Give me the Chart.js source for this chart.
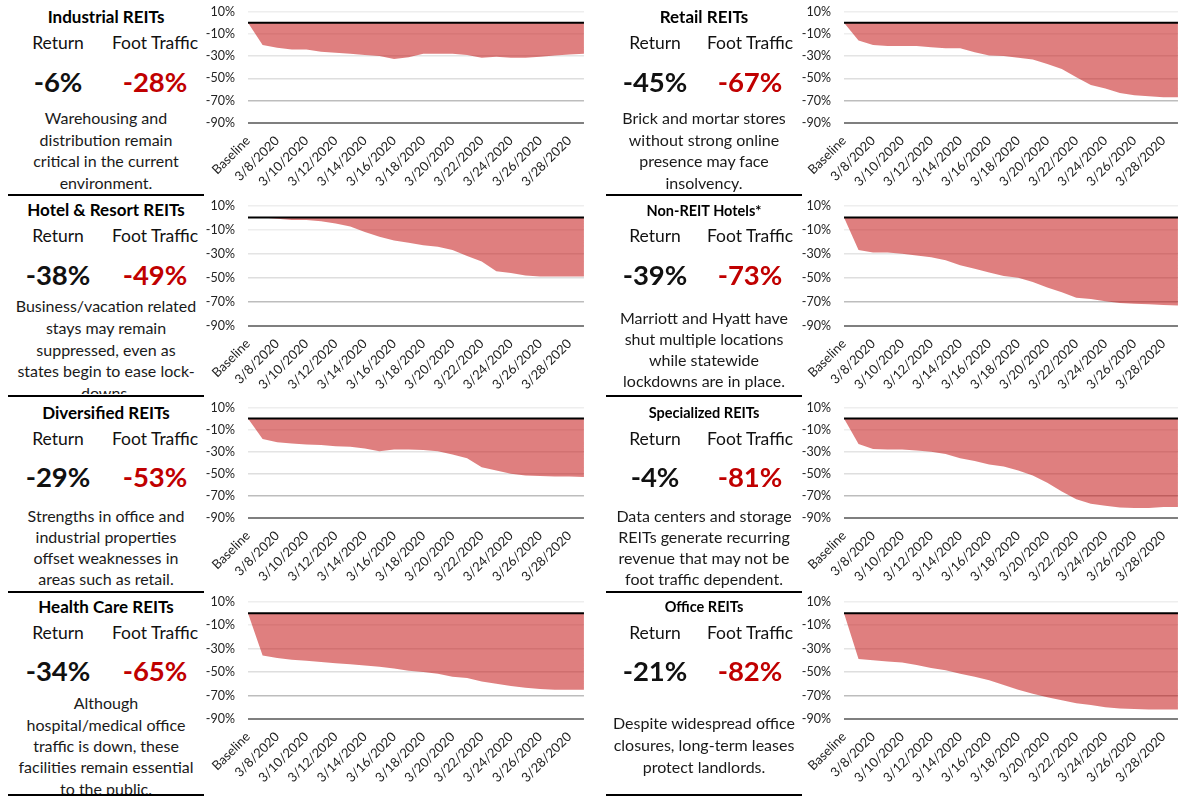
<!DOCTYPE html>
<html>
<head>
<meta charset="utf-8">
<script src="https://cdn.jsdelivr.net/npm/chart.js@4.4.1/dist/chart.umd.min.js"></script>
<style>
  body { margin: 0; background: #fff; font-family: Lato, 'Open Sans', sans-serif; }
  #page { position: relative; width: 1183px; height: 796px; overflow: hidden; }
  .t { position: absolute; text-align: center; white-space: nowrap; color: #111; }
  .sep { position: absolute; height: 2px; background: #000; }
  .box { position: absolute; }
</style>
</head>
<body>
<div id="page"></div>
<script>
// categories (x axis)
const categories = ['Baseline', '3/7/2020', '3/8/2020', '3/9/2020', '3/10/2020', '3/11/2020', '3/12/2020',
  '3/13/2020', '3/14/2020', '3/15/2020', '3/16/2020', '3/17/2020', '3/18/2020', '3/19/2020', '3/20/2020',
  '3/21/2020', '3/22/2020', '3/23/2020', '3/24/2020', '3/25/2020', '3/26/2020', '3/27/2020', '3/28/2020', '3/29/2020'];

// foot traffic change vs baseline, %
const industrial    = [0, -20, -22.5, -24, -24, -26, -27, -28, -29, -30, -32.5, -31, -28, -28, -28, -29, -31.5, -30.5, -31.5, -31.5, -30.5, -29.5, -28.5, -28];
const retail        = [0, -16, -20, -21, -21, -21, -22, -23, -23, -26.5, -29.5, -30, -31.5, -33, -37, -41.5, -49, -56, -59, -63, -65, -66, -67, -67];
const hotelResort   = [0, 0, -1, -2, -2, -3, -5, -7.5, -12, -16, -19, -21, -23, -24.3, -27, -32, -36.5, -44.5, -46, -48, -49, -49, -49, -49];
const nonReitHotels = [0, -27, -29, -29, -30, -31.5, -33, -35.5, -39.5, -42.5, -45.5, -48.5, -50, -53.5, -58, -62, -66.5, -67.5, -69.5, -71, -71.5, -72, -72.5, -73];
const diversified   = [0, -18.5, -21.5, -22.5, -23.5, -24, -25, -25.5, -27, -29.5, -28, -28, -28.5, -29.5, -32.5, -36, -44, -47, -50, -51.5, -52, -52.5, -52.5, -53];
const specialized   = [0, -23, -27.5, -28, -28, -29, -30, -32, -36, -38.5, -41.5, -43.5, -47, -51.5, -58, -66, -73, -77, -79, -80.5, -81, -81, -80, -80];
const healthCare    = [0, -36, -38, -39.5, -40.5, -41.5, -42.5, -43.5, -44.5, -45.5, -47, -49, -50, -51.5, -54, -55, -58, -60, -62, -63.5, -64.5, -65, -65, -65];
const office        = [0, -39, -40, -41, -42, -44, -46.5, -48.5, -51.5, -54, -57, -61, -65, -68.5, -71.5, -74, -76.5, -78, -80, -81, -81.5, -82, -82, -82];
const zeroLine      = [0, 0, 0, 0, 0, 0, 0, 0, 0, 0, 0, 0, 0, 0, 0, 0, 0, 0, 0, 0, 0, 0, 0, 0];

// panel texts
const titles = ['Industrial REITs', 'Retail REITs', 'Hotel & Resort REITs', 'Non-REIT Hotels*',
  'Diversified REITs', 'Specialized REITs', 'Health Care REITs', 'Office REITs'];
const returns = ['-6%', '-45%', '-38%', '-39%', '-29%', '-4%', '-34%', '-21%'];
const footTraffic = ['-28%', '-67%', '-49%', '-73%', '-53%', '-81%', '-65%', '-82%'];
const descriptions = [
  ['Warehousing and', 'distribution remain', 'critical in the current', 'environment.'],
  ['Brick and mortar stores', 'without strong online', 'presence may face', 'insolvency.'],
  ['Business/vacation related', 'stays may remain', 'suppressed, even as', 'states begin to ease lock-', 'downs.'],
  ['Marriott and Hyatt have', 'shut multiple locations', 'while statewide', 'lockdowns are in place.'],
  ['Strengths in office and', 'industrial properties', 'offset weaknesses in', 'areas such as retail.'],
  ['Data centers and storage', 'REITs generate recurring', 'revenue that may not be', 'foot traffic dependent.'],
  ['Although', 'hospital/medical office', 'traffic is down, these', 'facilities remain essential', 'to the public.'],
  ['Despite widespread office', 'closures, long-term leases', 'protect landlords.']
];
const series = [industrial, retail, hotelResort, nonReitHotels, diversified, specialized, healthCare, office];

// layout: y centres of text rows for each panel, and plot top/bottom per row
const textY = [
  { title: 17, ret: 42, num: 81, desc: 118, lh: 21.5, clip: 193, tsize: 17 },
  { title: 17, ret: 42, num: 81, desc: 118, lh: 21.5, clip: 193, tsize: 17 },
  { title: 210, ret: 235, num: 274, desc: 306, lh: 21.8, clip: 394, tsize: 17 },
  { title: 211, ret: 235, num: 274, desc: 317, lh: 21, clip: 394, tsize: 14.5 },
  { title: 413, ret: 438, num: 476, desc: 515, lh: 21, clip: 590, tsize: 17 },
  { title: 413, ret: 438, num: 476, desc: 515, lh: 21, clip: 590, tsize: 14.5 },
  { title: 607, ret: 632, num: 670, desc: 703, lh: 21.3, clip: 794, tsize: 17 },
  { title: 607, ret: 632, num: 670, desc: 723, lh: 22, clip: 794, tsize: 14.5 }
];
const rowPlot = [[11, 123], [205, 326], [407, 518], [601, 719]];
const sepY = [195, 396, 592, 795];

const page = document.getElementById('page');

function addText(txt, cx, cy, size, weight, color) {
  const d = document.createElement('div');
  d.className = 't';
  d.textContent = txt;
  d.style.left = (cx - 110) + 'px';
  d.style.width = '220px';
  d.style.top = (cy - size * 0.6) + 'px';
  d.style.lineHeight = (size * 1.2) + 'px';
  d.style.fontSize = size + 'px';
  d.style.fontWeight = weight;
  d.style.color = color;
  page.appendChild(d);
}

function gridColor(v) {
  if (v === -90) return '#7f7f7f';
  if (v === -70) return '#bdbdbd';
  if (v === -50) return '#dedede';
  if (v === -30) return '#e4e4e4';
  return '#eeeeee';
}

for (let i = 0; i < 8; i++) {
  const col = i % 2, row = Math.floor(i / 2);
  const colLeft = col ? 606 : 8;
  const colMid = colLeft + 98;
  const retX = col ? 655 : 58;
  const ftX = col ? 750 : 155;
  const ty = textY[i];

  addText(titles[i], colMid, ty.title, ty.tsize, 700, '#000');
  addText('Return', retX, ty.ret, 17.5, 400, '#111');
  addText('Foot Traffic', ftX, ty.ret, 17.5, 400, '#111');
  addText(returns[i], retX, ty.num, 27.5, 700, '#111');
  addText(footTraffic[i], ftX, ty.num, 27.5, 700, '#c00000');

  // description block
  const d = document.createElement('div');
  d.className = 't';
  d.style.left = (colMid - 110) + 'px';
  d.style.width = '220px';
  d.style.top = (ty.desc - ty.lh / 2) + 'px';
  d.style.lineHeight = ty.lh + 'px';
  d.style.fontSize = '16px';
  d.style.color = '#1a1a1a';
  d.style.height = (ty.clip - (ty.desc - ty.lh / 2)) + 'px';
  d.style.overflow = 'hidden';
  d.innerHTML = descriptions[i].join('<br>');
  page.appendChild(d);

  // separator under the panel
  const s = document.createElement('div');
  s.className = 'sep';
  s.style.left = colLeft + 'px';
  s.style.width = '196px';
  s.style.top = (sepY[row] - 1) + 'px';
  page.appendChild(s);

  // chart
  const [pTop, pBot] = rowPlot[row];
  const left = col ? 780 : 184;
  const right = col ? 1191 : 597;
  const plotLeft = col ? 844 : 248;
  const offTop = 20, xH = 72;
  const box = document.createElement('div');
  box.className = 'box';
  box.style.left = left + 'px';
  box.style.top = (pTop - offTop) + 'px';
  box.style.width = (right - left) + 'px';
  box.style.height = (offTop + pBot - pTop + xH) + 'px';
  const canvas = document.createElement('canvas');
  box.appendChild(canvas);
  page.appendChild(box);

  new Chart(canvas, {
    type: 'line',
    data: {
      labels: categories,
      datasets: [
        {
          data: series[i],
          fill: 'origin',
          backgroundColor: 'rgba(192, 0, 0, 0.5)',
          borderWidth: 0,
          pointRadius: 0,
          tension: 0,
          order: 2,
        },
        {
          data: zeroLine,
          fill: false,
          borderColor: '#000',
          borderWidth: 2,
          pointRadius: 0,
          order: 1,
        },
      ],
    },
    options: {
      animation: false,
      responsive: true,
      maintainAspectRatio: false,
      layout: { padding: { top: 12, right: 0, left: 0, bottom: 0 } },
      plugins: { legend: { display: false }, tooltip: { enabled: false } },
      scales: {
        x: {
          grid: { display: false },
          border: { display: false },
          ticks: {
            autoSkip: false,
            minRotation: 45,
            maxRotation: 45,
            padding: 2,
            color: '#222',
            font: { size: 13, family: 'Lato' },
            callback: (v, k) => (k % 2 === 0 ? categories[k] : ''),
          },
          afterFit: (sc) => { sc.height = xH; },
        },
        y: {
          min: -90,
          max: 10,
          border: { display: false },
          grid: {
            drawTicks: false,
            color: (c) => gridColor(c.tick.value),
            lineWidth: (c) => (c.tick.value === -90 ? 2 : 1.5),
          },
          ticks: {
            stepSize: 20,
            padding: 13,
            color: '#222',
            font: { size: 12.5, family: 'Lato' },
            callback: (v) => v + '%',
          },
          afterFit: (sc) => { sc.width = plotLeft - left; },
        },
      },
    },
  });
}
</script>
</body>
</html>
